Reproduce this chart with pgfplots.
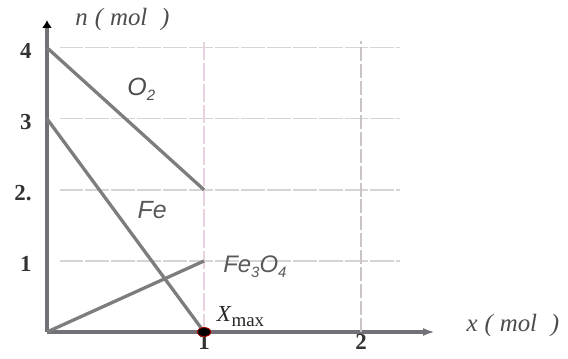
\documentclass[border=0pt]{standalone}
\usepackage{pgfplots}
\pgfplotsset{compat=1.18}
\usetikzlibrary{arrows.meta}
\usepackage{fontspec}
\setmainfont{Liberation Serif}
\setsansfont{Liberation Sans}
\definecolor{gridc}{RGB}{232,210,224}
\definecolor{gridh}{RGB}{215,212,215}
\definecolor{linec}{RGB}{125,125,125}
\definecolor{axisc}{RGB}{115,112,120}
\begin{document}
\begin{tikzpicture}[x=1bp,y=1bp]
\useasboundingbox (0,0) rectangle (568,358);
\begin{axis}[
  at={(47bp,26bp)}, anchor=origin,
  scale only axis, width=388bp, height=312bp,
  xmin=0, xmax=2.47, ymin=0, ymax=4.39,
  axis lines=left,
  axis line style={axisc, line width=3.8pt},
  x axis line style={-{Latex[length=12pt,width=8pt]}},
  y axis line style={-{Latex[length=8pt,width=10pt,black]}},
  xtick={1,2}, ytick={1,2,3,4},
  xticklabels={1,2},
  yticklabels={1,2.,3,4},
  major tick length=0pt,
  /pgf/number format/assume math mode=true,
  tick label style={font=\fontsize{23}{23}\selectfont\bfseries, black!80},
  xticklabel style={yshift=1pt},
  yticklabel style={xshift=-12pt, yshift=-3pt},
  clip=false,
]
% grid lines
\addplot[gridh, line width=1.3pt, dash pattern=on 24pt off 2pt, forget plot] coordinates {(0.08,4) (2.25,4)};
\addplot[gridh, line width=1.3pt, dash pattern=on 24pt off 2pt, forget plot] coordinates {(0.08,3) (2.25,3)};
\addplot[gridh, line width=1.3pt, dash pattern=on 24pt off 2pt, forget plot] coordinates {(0.08,2) (2.25,2)};
\addplot[gridh, line width=1.3pt, dash pattern=on 24pt off 2pt, forget plot] coordinates {(0.08,1) (2.25,1)};
\addplot[gridc, line width=2pt, dash pattern=on 18pt off 3pt, forget plot] coordinates {(1,0) (1,4.1)};
\addplot[gridc!50!gray!70, line width=1.5pt, dash pattern=on 14pt off 3pt, forget plot] coordinates {(2,0) (2,4.1)};
% data lines
\addplot[linec, line width=3.3pt] coordinates {(0,4) (1,2)};
\addplot[linec, line width=3.3pt] coordinates {(0,3) (1,0)};
\addplot[linec, line width=3.3pt] coordinates {(0,0) (1,1)};
\addplot[only marks, mark=*, mark size=4.5pt, mark options={fill=black, draw=red!70!black, xscale=1.5, line width=0.8pt}] coordinates {(1,0)};
% labels
\node[font=\fontsize{25}{25}\selectfont\sffamily\itshape, black!70] at (axis cs:0.60,3.42) {O\raisebox{-5pt}{\fontsize{15}{15}\selectfont 2}};
\node[font=\fontsize{25}{25}\selectfont\sffamily\itshape, black!65] at (axis cs:0.67,1.72) {Fe};
\node[font=\fontsize{24}{24}\selectfont\sffamily\itshape, black!65, anchor=west] at (axis cs:1.10,0.92) {Fe\raisebox{-5pt}{\fontsize{15}{15}\selectfont 3}O\raisebox{-5pt}{\fontsize{15}{15}\selectfont 4}};
\node[font=\fontsize{23}{23}\selectfont, anchor=west, black!85, inner sep=0pt] at (axis cs:1.08,0.22) {\textit{X}\raisebox{-5pt}{\fontsize{19}{19}\selectfont max}};
\node[font=\fontsize{25}{25}\selectfont\itshape, anchor=west, black!70, inner sep=0pt] at (axis cs:0.18,4.4) {n\;(\;mol\;\;)};
\node[font=\fontsize{25}{25}\selectfont\itshape, anchor=west, black!70, inner sep=0pt] at (axis cs:2.67,0.09) {x\;(\;mol\;\;)};
\end{axis}
\end{tikzpicture}
\end{document}
